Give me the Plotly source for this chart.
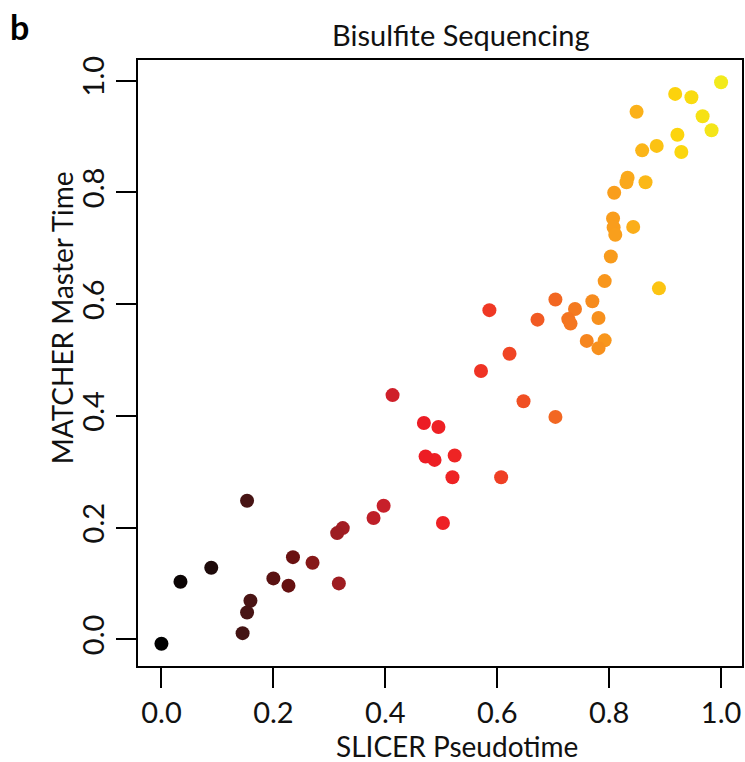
import plotly.graph_objects as go

# SLICER pseudotime (x) vs MATCHER master time (y) for each cell
slicer_pseudotime = [
    1.000, 0.918, 0.947, 0.849, 0.967, 0.983, 0.922, 0.885, 0.859, 0.929,
    0.833, 0.831, 0.865, 0.809, 0.807, 0.808, 0.843, 0.811, 0.803, 0.792,
    0.889, 0.704, 0.770, 0.586, 0.739, 0.672, 0.727, 0.731, 0.781, 0.760,
    0.792, 0.781, 0.622, 0.571, 0.647, 0.704, 0.495, 0.469, 0.488, 0.472,
    0.524, 0.520, 0.607, 0.503, 0.413, 0.397, 0.379, 0.324, 0.314, 0.317,
    0.235, 0.270, 0.200, 0.227, 0.153, 0.089, 0.034, 0.159, 0.153, 0.145,
    0.000,
]
matcher_master_time = [
    0.997, 0.976, 0.970, 0.944, 0.936, 0.911, 0.903, 0.883, 0.875, 0.872,
    0.826, 0.818, 0.818, 0.799, 0.753, 0.737, 0.738, 0.724, 0.685, 0.641,
    0.628, 0.608, 0.605, 0.589, 0.591, 0.572, 0.573, 0.565, 0.575, 0.534,
    0.535, 0.521, 0.511, 0.480, 0.426, 0.398, 0.380, 0.387, 0.321, 0.327,
    0.329, 0.290, 0.290, 0.208, 0.437, 0.239, 0.217, 0.199, 0.190, 0.100,
    0.147, 0.137, 0.109, 0.096, 0.248, 0.128, 0.103, 0.069, 0.048, 0.011,
    -0.008,
]
tick_values = [0.0, 0.2, 0.4, 0.6, 0.8, 1.0]
tick_labels = ["0.0", "0.2", "0.4", "0.6", "0.8", "1.0"]

# heat-style colour ramp keyed on pseudotime
heat_scale = [
    [0.00, "#000000"],
    [0.09, "#1e0a0a"],
    [0.15, "#461414"],
    [0.23, "#661010"],
    [0.27, "#861818"],
    [0.32, "#a01c22"],
    [0.40, "#c8202a"],
    [0.47, "#ed1c24"],
    [0.52, "#ee2324"],
    [0.60, "#ef3c24"],
    [0.70, "#f26522"],
    [0.78, "#f7901d"],
    [0.85, "#fbb11a"],
    [0.92, "#fcd30c"],
    [1.00, "#f2ea1c"],
]

FONT = "Lato, 'Open Sans', sans-serif"

fig = go.Figure(
    go.Scatter(
        x=slicer_pseudotime,
        y=matcher_master_time,
        mode="markers",
        marker=dict(
            size=14,
            color=slicer_pseudotime,
            colorscale=heat_scale,
            cmin=0,
            cmax=1,
            line=dict(width=0),
        ),
        hoverinfo="x+y",
        showlegend=False,
    )
)

axis_common = dict(
    showgrid=False,
    zeroline=False,
    showline=True,
    linecolor="black",
    linewidth=2,
    mirror=True,
    ticks="outside",
    ticklen=20,
    tickwidth=2,
    tickcolor="black",
    tickvals=tick_values,
    ticktext=tick_labels,
    tickfont=dict(family=FONT, size=29, color="#111111"),
)

fig.update_xaxes(range=[-0.0419, 1.0374], **axis_common)
fig.update_yaxes(range=[-0.0478, 1.0367], tickangle=-90, **axis_common)

W, H = 745, 762
L, R, T, B = 138, 1, 60, 96
pw, ph = W - L - R, H - T - B


def px(x):
    return (x - L) / pw


def py(y):
    return (H - B - y) / ph


annotations = [
    dict(text="<b>b</b>", x=px(19), y=py(26), font=dict(family=FONT, size=34, color="black")),
    dict(text="Bisulfite Sequencing", x=px(462), y=py(35), font=dict(family=FONT, size=29, color="#111111")),
    dict(text="SLICER Pseudotime", x=px(458), y=py(746), font=dict(family=FONT, size=28, color="#111111")),
    dict(text="MATCHER Master Time", x=px(62), y=py(318), textangle=-90,
         font=dict(family=FONT, size=28, color="#111111")),
]
for a in annotations:
    a.update(xref="paper", yref="paper", showarrow=False, xanchor="center", yanchor="middle")

fig.update_layout(
    width=W,
    height=H,
    margin=dict(l=L, r=R, t=T, b=B, pad=0),
    paper_bgcolor="white",
    plot_bgcolor="white",
    annotations=annotations,
)

fig.write_html("out.html")
